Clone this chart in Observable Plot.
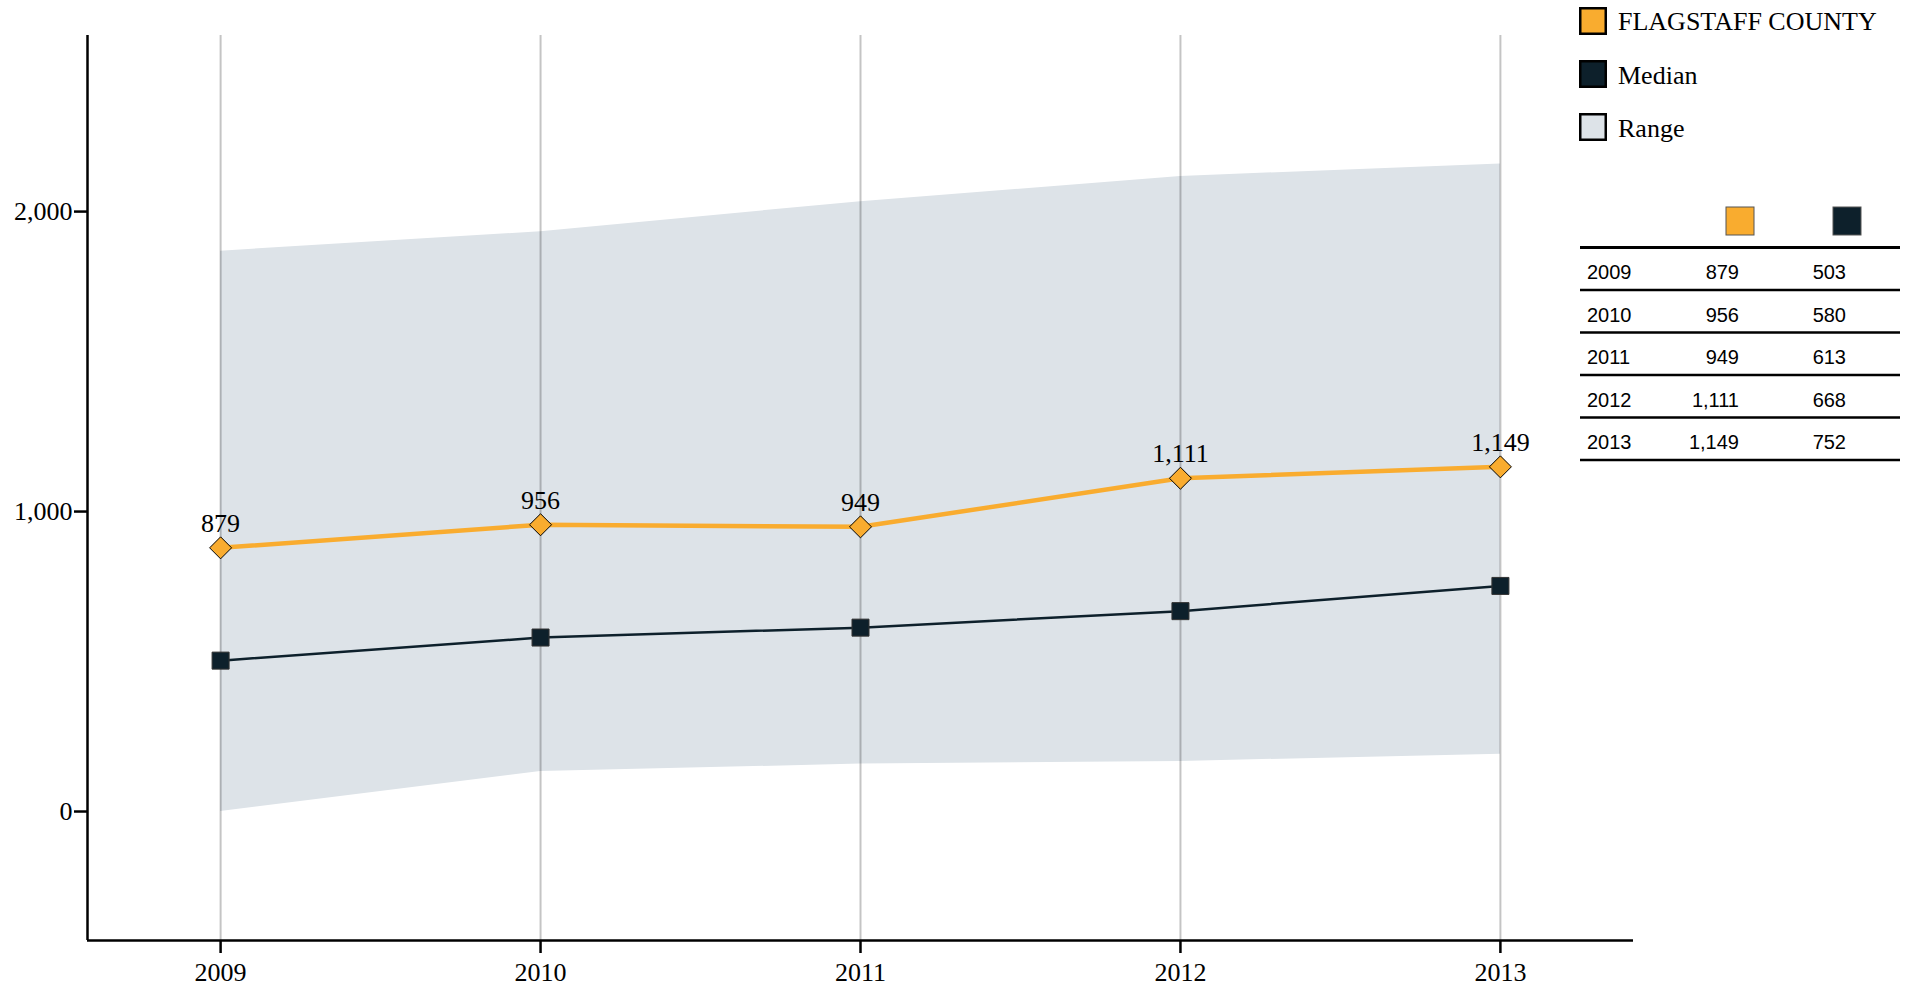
<!DOCTYPE html>
<html><head><meta charset="utf-8">
<script src="https://cdn.jsdelivr.net/npm/d3@7"></script>
<script src="https://cdn.jsdelivr.net/npm/@observablehq/plot@0.6"></script>
<style>body{margin:0;background:#fff}</style>
</head><body><div id="chart"></div>
<script>
const years = [2009, 2010, 2011, 2012, 2013];
const county = [879, 956, 949, 1111, 1149];
const median = [503, 580, 613, 668, 752];
const rangeLow = [0, 133, 158, 167, 191];
const rangeHigh = [1868, 1933, 2033, 2117, 2159];
const yTicks = [0, 1000, 2000];
const seriesNames = ["FLAGSTAFF COUNTY", "Median", "Range"];
const seriesColors = ["#f9ac2f", "#0d202b", "#dde3e8"];

const rows = years.map((year, i) => ({year, county: county[i], median: median[i], low: rangeLow[i], high: rangeHigh[i]}));
const xDomain = [2008.584, 2013.416];
const yDomain = [-430, 2587];
const fmt = d3.format(",");
const serif = "'Liberation Serif', 'Times New Roman', serif";
const sans = "'Liberation Sans', Arial, sans-serif";

const chart = Plot.plot({
  width: 1913, height: 988,
  marginLeft: 87, marginRight: 280, marginTop: 35, marginBottom: 48,
  style: {fontFamily: serif, fontSize: "26px", color: "#000", background: "#fff"},
  x: {domain: xDomain},
  y: {domain: yDomain},
  marks: [
    Plot.areaY(rows, {x: "year", y1: "low", y2: "high", fill: seriesColors[2]}),
    Plot.ruleX(rows, {x: "year", stroke: "#000", strokeOpacity: 0.23, strokeWidth: 2}),
    Plot.line(rows, {x: "year", y: "median", stroke: seriesColors[1], strokeWidth: 2.5}),
    Plot.dot(rows, {x: "year", y: "median", symbol: "square", r: 9.6, fill: seriesColors[1], stroke: "#333", strokeWidth: 1}),
    Plot.line(rows, {x: "year", y: "county", stroke: seriesColors[0], strokeWidth: 4.5}),
    Plot.dot(rows, {x: "year", y: "county", symbol: "diamond2", r: 9.9, fill: seriesColors[0], stroke: "#000", strokeWidth: 1}),
    Plot.text(rows, {x: "year", y: "county", text: d => fmt(d.county), lineAnchor: "bottom", dy: -16, fontSize: 26, fill: "#000"}),
    Plot.axisX({ticks: years, tickFormat: d => String(d), tickSize: 13, tickPadding: 9, fontSize: 26, strokeWidth: 2.5, label: null}),
    Plot.axisY({ticks: yTicks, tickFormat: d => fmt(d), tickSize: 13, tickPadding: 2, fontSize: 26, strokeWidth: 2.5, label: null}),
    Plot.ruleX([xDomain[0]], {strokeWidth: 2.5}),
    Plot.ruleY([yDomain[0]], {strokeWidth: 2.5})
  ]
});

const svg = d3.select(chart);
// legend
const leg = svg.append("g").attr("font-family", serif).attr("font-size", 26).attr("fill", "#000").attr("text-anchor", "start");
seriesNames.forEach((name, i) => {
  leg.append("rect").attr("x", 1580.25).attr("y", 8.25 + 53 * i).attr("width", 25.5).attr("height", 25.5)
    .attr("fill", seriesColors[i]).attr("stroke", "#000").attr("stroke-width", 2.5);
  leg.append("text").attr("x", 1618).attr("y", 30 + 53.5 * i).attr("text-anchor", "start").text(name);
});
// table
const tb = svg.append("g").attr("font-family", sans).attr("font-size", 20).attr("fill", "#000").attr("text-anchor", "start");
const colRight = [1739, 1846];
[0, 1].forEach(j => {
  tb.append("rect").attr("x", colRight[j] - 13).attr("y", 207).attr("width", 28).attr("height", 28)
    .attr("fill", seriesColors[j]).attr("stroke", "#555").attr("stroke-width", 1);
});
const top0 = 247.5, rowH = 42.5;
for (let i = 0; i <= rows.length; i++) {
  tb.append("line").attr("x1", 1580).attr("x2", 1900).attr("y1", top0 + rowH * i).attr("y2", top0 + rowH * i)
    .attr("stroke", "#000").attr("stroke-width", i === 0 ? 3 : 2.5);
}
rows.forEach((r, i) => {
  const yb = top0 + rowH * i + 31.5;
  tb.append("text").attr("x", 1587).attr("y", yb).attr("text-anchor", "start").text(String(r.year));
  tb.append("text").attr("x", colRight[0]).attr("y", yb).attr("text-anchor", "end").text(fmt(r.county));
  tb.append("text").attr("x", colRight[1]).attr("y", yb).attr("text-anchor", "end").text(fmt(r.median));
});

document.getElementById("chart").append(chart);
</script>
</body></html>
